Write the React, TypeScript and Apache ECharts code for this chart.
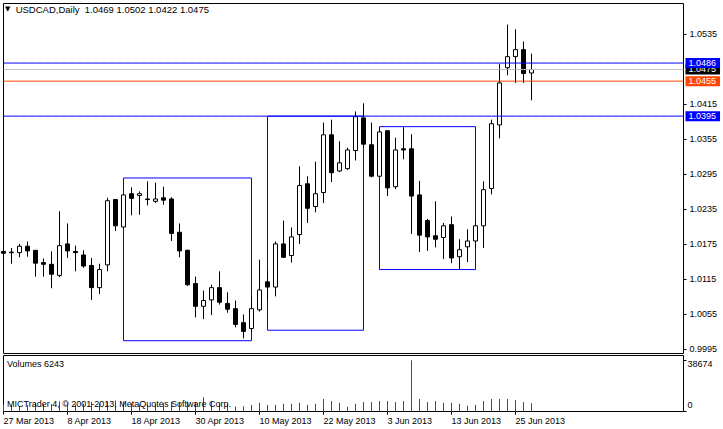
import React, { useEffect, useRef } from 'react';
import * as echarts from 'echarts';

const DATES = [
  '27 Mar 2013', '28 Mar 2013', '29 Mar 2013',
  '1 Apr 2013', '2 Apr 2013', '3 Apr 2013', '4 Apr 2013', '5 Apr 2013',
  '8 Apr 2013', '9 Apr 2013', '10 Apr 2013', '11 Apr 2013', '12 Apr 2013',
  '15 Apr 2013', '16 Apr 2013', '17 Apr 2013', '18 Apr 2013', '19 Apr 2013',
  '22 Apr 2013', '23 Apr 2013', '24 Apr 2013', '25 Apr 2013', '26 Apr 2013',
  '29 Apr 2013', '30 Apr 2013',
  '1 May 2013', '2 May 2013', '3 May 2013',
  '6 May 2013', '7 May 2013', '8 May 2013', '9 May 2013', '10 May 2013',
  '13 May 2013', '14 May 2013', '15 May 2013', '16 May 2013', '17 May 2013',
  '20 May 2013', '21 May 2013', '22 May 2013', '23 May 2013', '24 May 2013',
  '27 May 2013', '28 May 2013', '29 May 2013', '30 May 2013', '31 May 2013',
  '3 Jun 2013', '4 Jun 2013', '5 Jun 2013', '6 Jun 2013', '7 Jun 2013',
  '10 Jun 2013', '11 Jun 2013', '12 Jun 2013', '13 Jun 2013', '14 Jun 2013',
  '17 Jun 2013', '18 Jun 2013', '19 Jun 2013', '20 Jun 2013', '21 Jun 2013',
  '24 Jun 2013', '25 Jun 2013', '26 Jun 2013', '27 Jun 2013',
];

const OPEN = [
  1.0163, 1.0161, 1.0161, 1.0172, 1.0165, 1.0144, 1.0141, 1.0122, 1.0176, 1.0163,
  1.0157, 1.0139, 1.0101, 1.0140, 1.0252, 1.0205, 1.0262, 1.0259, 1.0253, 1.0249,
  1.0255, 1.0253, 1.0196, 1.0165, 1.0108, 1.0069, 1.0080, 1.0101, 1.0074, 1.0065,
  1.0041, 1.0031, 1.0063, 1.0111, 1.0102, 1.0176, 1.0156, 1.0192, 1.0279, 1.0240,
  1.0264, 1.0363, 1.0301, 1.0305, 1.0336, 1.0392, 1.0346, 1.0292, 1.0370, 1.0274,
  1.0339, 1.0339, 1.0260, 1.0216, 1.0190, 1.0187, 1.0209, 1.0154, 1.0171, 1.0181,
  1.0207, 1.0271, 1.0380, 1.0478, 1.0497, 1.0509, 1.0469,
];
const HIGH = [
  1.0192, 1.0169, 1.0176, 1.0180, 1.0165, 1.0151, 1.0163, 1.0232, 1.0211, 1.0173,
  1.0165, 1.0152, 1.0142, 1.0255, 1.0253, 1.0262, 1.0273, 1.0266, 1.0283, 1.0281,
  1.0274, 1.0256, 1.0211, 1.0166, 1.0120, 1.0096, 1.0106, 1.0129, 1.0093, 1.0079,
  1.0055, 1.0087, 1.0149, 1.0130, 1.0180, 1.0216, 1.0204, 1.0309, 1.0292, 1.0317,
  1.0384, 1.0389, 1.0352, 1.0341, 1.0403, 1.0417, 1.0384, 1.0376, 1.0370, 1.0358,
  1.0376, 1.0364, 1.0284, 1.0219, 1.0249, 1.0212, 1.0223, 1.0184, 1.0201, 1.0215,
  1.0283, 1.0389, 1.0485, 1.0552, 1.0544, 1.0523, 1.0502,
];
const LOW = [
  1.0144, 1.0142, 1.0153, 1.0154, 1.0120, 1.0120, 1.0100, 1.0119, 1.0152, 1.0129,
  1.0135, 1.0080, 1.0090, 1.0129, 1.0198, 1.0204, 1.0225, 1.0226, 1.0242, 1.0246,
  1.0243, 1.0181, 1.0153, 1.0104, 1.0050, 1.0047, 1.0054, 1.0072, 1.0058, 1.0033,
  1.0014, 1.0025, 1.0060, 1.0079, 1.0086, 1.0152, 1.0144, 1.0176, 1.0212, 1.0230,
  1.0246, 1.0282, 1.0299, 1.0303, 1.0319, 1.0341, 1.0290, 1.0290, 1.0258, 1.0270,
  1.0321, 1.0193, 1.0162, 1.0164, 1.0170, 1.0150, 1.0143, 1.0132, 1.0145, 1.0170,
  1.0169, 1.0261, 1.0357, 1.0465, 1.0452, 1.0452, 1.0422,
];
const CLOSE = [
  1.0160, 1.0162, 1.0172, 1.0164, 1.0143, 1.0141, 1.0124, 1.0173, 1.0164, 1.0161,
  1.0138, 1.0101, 1.0132, 1.0250, 1.0207, 1.0260, 1.0254, 1.0262, 1.0252, 1.0253,
  1.0251, 1.0194, 1.0164, 1.0106, 1.0069, 1.0079, 1.0101, 1.0076, 1.0064, 1.0038,
  1.0026, 1.0065, 1.0097, 1.0102, 1.0176, 1.0153, 1.0188, 1.0276, 1.0237, 1.0262,
  1.0363, 1.0298, 1.0315, 1.0337, 1.0394, 1.0347, 1.0292, 1.0368, 1.0272, 1.0337,
  1.0337, 1.0258, 1.0191, 1.0188, 1.0184, 1.0207, 1.0152, 1.0166, 1.0181, 1.0207,
  1.0269, 1.0382, 1.0452, 1.0497, 1.0509, 1.0468, 1.0475,
];
const VOLUME = [
  5200, 4500, 4200, 4800, 6000, 5200, 5600, 7600, 7000, 5200,
  5800, 7200, 6200, 7800, 8200, 7500, 6000, 5200, 4800, 5400,
  6000, 7400, 6800, 7600, 7000, 10700, 7200, 6500, 5800, 3800,
  4000, 4900, 6500, 4950, 5000, 5760, 5800, 6500, 5000, 5750,
  9500, 8000, 6500, 3500, 5750, 7250, 7200, 8000, 7950, 7250,
  8000, 38674, 9500, 7250, 8000, 6500, 6550, 5750, 4250, 5000,
  8000, 9500, 9450, 9400, 8750, 7250, 6243,
];

const PRICE_TICKS = [0.9995, 1.0055, 1.0115, 1.0175, 1.0235, 1.0295, 1.0355, 1.0415, 1.0535];
const VOLUME_TICKS = [0, 38674];
const LEVELS = [1.0395, 1.0455, 1.0475, 1.0486];
const LEVEL_LINE_COLORS = ['#0000ff', '#ff4500', '#c0c0c0', '#0000ff'];
const LEVEL_BOX_COLORS = ['#0000ff', '#ff4500', '#000000', '#0000ff'];
// rectangles: [startBar, topPrice, endBar, bottomPrice]
const BOXES = [
  [15, 1.0289, 31, 1.0010],
  [33, 1.0395, 45, 1.0028],
  [47, 1.0377, 59, 1.0132],
];
const SYMBOL = 'USDCAD,Daily';
const COPYRIGHT = 'MICTrader 4, © 2001-2013, MetaQuotes Software Corp.';

const FONT = 'Liberation Sans';
const FS = 9;
const EXTRA_SLOTS = 19;
const UP = '#008000';
const DOWN = '#ff0000';

export default function App() {
  const ref = useRef<HTMLDivElement>(null);
  useEffect(() => {
    document.body.style.margin = '0';
    const chart = echarts.init(ref.current!, null, { renderer: 'svg' });
    const cats = [...DATES, ...Array(EXTRA_SLOTS).fill('')];
    const n = DATES.length;
    const last = n - 1;
    const tickFn = (i: number) => i % 8 === 0 && i < n;
    const txt = { fontFamily: FONT, fontSize: FS, color: '#000' };

    const levelSeries = LEVELS.map((v, i) => ({
      type: 'line',
      xAxisIndex: 0, yAxisIndex: 0,
      data: cats.map(() => v),
      symbol: 'none',
      silent: true,
      z: 3,
      lineStyle: { color: LEVEL_LINE_COLORS[i], width: 1, type: 'solid' },
      emphasis: { disabled: true },
      endLabel: {
        show: true, formatter: v.toFixed(4), distance: 2,
        backgroundColor: LEVEL_BOX_COLORS[i], color: '#fff', padding: [0, 4, 0, 3],
        fontFamily: FONT, fontSize: FS, lineHeight: 10, align: 'left', verticalAlign: 'middle',
      },
    }));

    chart.setOption({
      animation: false,
      backgroundColor: '#fff',
      title: [
        {
          text: `{tri|▼}  ${SYMBOL}  ${OPEN[last].toFixed(4)} ${HIGH[last].toFixed(4)} ${LOW[last].toFixed(4)} ${CLOSE[last].toFixed(4)}`,
          left: 5, top: 4, padding: 0,
          textStyle: { ...txt, fontSize: 9.5, fontWeight: 'normal', rich: { tri: { fontSize: 7, fontFamily: 'DejaVu Sans', color: '#000' } } },
        },
        {
          text: `Volumes ${VOLUME[last]}`,
          left: 7, top: 359, padding: 0,
          textStyle: { ...txt, fontWeight: 'normal' },
        },
        {
          text: COPYRIGHT,
          left: 7, top: 399, padding: 0,
          textStyle: { ...txt, fontWeight: 'normal' },
        },
      ],
      grid: [
        { left: 3.5, top: 3.5, width: 680, height: 350, show: true, borderColor: '#000', borderWidth: 1, backgroundColor: 'transparent' },
        { left: 3.5, top: 355.5, width: 680, height: 56, show: true, borderColor: '#000', borderWidth: 1, backgroundColor: 'transparent' },
      ],
      xAxis: [
        { type: 'category', gridIndex: 0, data: cats, boundaryGap: false, show: false },
        {
          type: 'category', gridIndex: 1, data: cats, boundaryGap: false,
          axisLine: { show: false },
          axisTick: { show: true, interval: tickFn, length: 3, lineStyle: { color: '#000' } },
          axisLabel: { interval: tickFn, align: 'left', margin: 5, ...txt },
          splitLine: { show: false },
        },
      ],
      yAxis: [
        {
          type: 'value', gridIndex: 0, position: 'right', min: 0.99881, max: 1.05881,
          axisLine: { show: false },
          splitLine: { show: false },
          axisTick: { show: true, customValues: PRICE_TICKS, length: 3, lineStyle: { color: '#000' } },
          axisLabel: { customValues: PRICE_TICKS, formatter: (v: number) => v.toFixed(4), margin: 6, ...txt },
        },
        {
          type: 'value', gridIndex: 1, position: 'right', min: 0, max: 42200,
          axisLine: { show: false },
          splitLine: { show: false },
          axisTick: { show: true, customValues: VOLUME_TICKS, length: 3, lineStyle: { color: '#000' } },
          axisLabel: {
            customValues: VOLUME_TICKS, margin: 4, ...txt,
            formatter: (v: number) => (v === 0 ? `{b|${v}}` : `{t|${v}}`),
            rich: {
              t: { fontFamily: FONT, fontSize: FS, color: '#000', padding: [7, 0, 0, 0] },
              b: { fontFamily: FONT, fontSize: FS, color: '#000', padding: [0, 0, 14, 0] },
            },
          },
        },
      ],
      series: [
        {
          type: 'candlestick',
          xAxisIndex: 0, yAxisIndex: 0,
          data: OPEN.map((o, i) => [o, CLOSE[i], LOW[i], HIGH[i]]),
          barWidth: 4,
          clip: true,
          itemStyle: { color: '#fff', color0: '#000', borderColor: '#000', borderColor0: '#000', borderWidth: 1 },
          emphasis: { disabled: true },
          markArea: {
            silent: true,
            label: { show: false },
            itemStyle: { color: 'rgba(0,0,0,0)', borderColor: '#0000ff', borderWidth: 1 },
            emphasis: { disabled: true },
            data: BOXES.map((b) => [{ xAxis: b[0], yAxis: b[1] }, { xAxis: b[2], yAxis: b[3] }]),
          },
        },
        ...levelSeries,
        {
          type: 'bar',
          xAxisIndex: 1, yAxisIndex: 1,
          barWidth: 1,
          data: VOLUME,
          itemStyle: {
            opacity: 1,
            borderWidth: 0,
            color: (p: any) => (p.dataIndex > 0 && VOLUME[p.dataIndex] > VOLUME[p.dataIndex - 1] ? UP : DOWN),
          },
          emphasis: { disabled: true },
        },
      ],
    });
    return () => chart.dispose();
  }, []);
  return <div ref={ref} style={{ width: 723, height: 429 }} />;
}
